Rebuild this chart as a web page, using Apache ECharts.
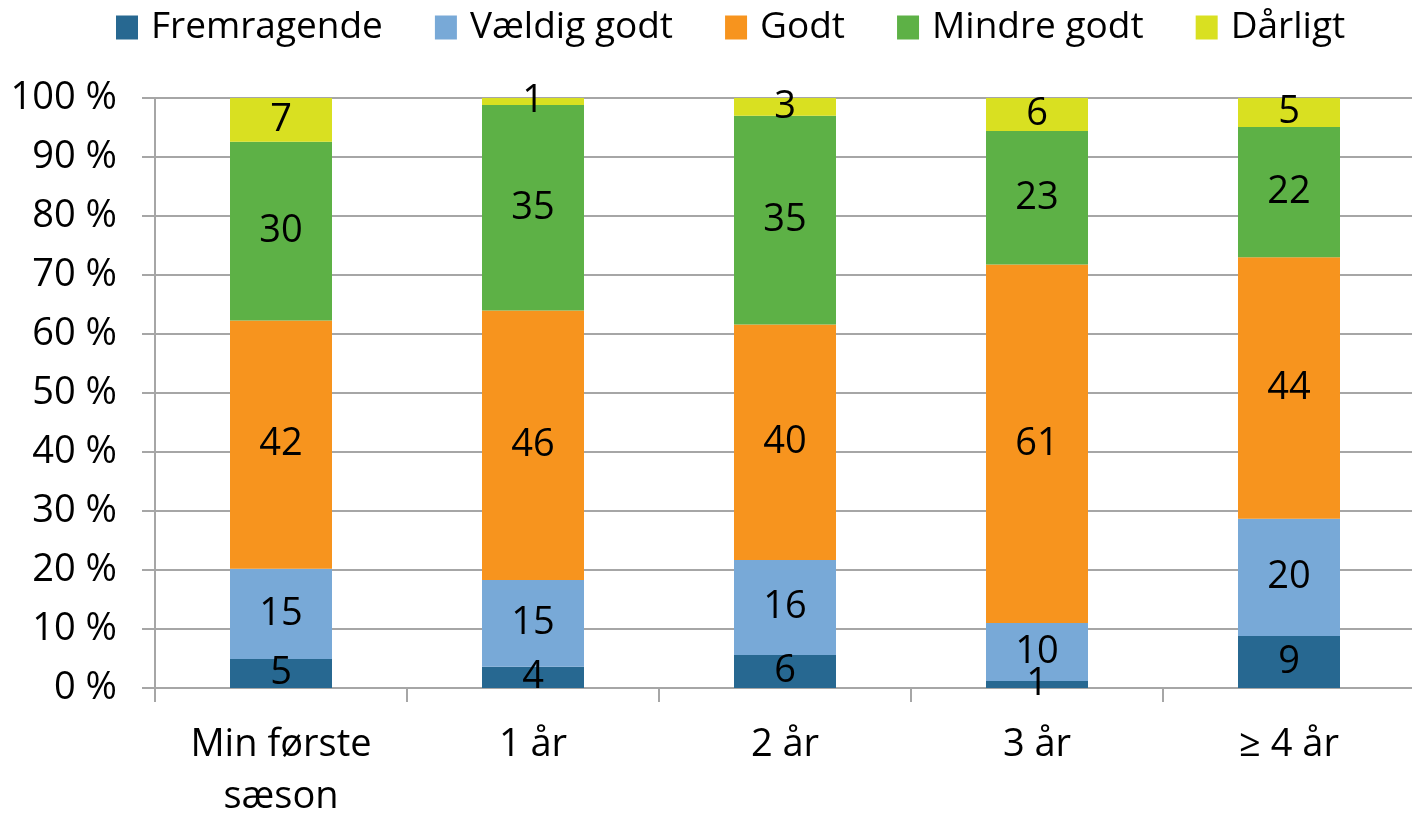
<!DOCTYPE html>
<html>
<head>
<meta charset="utf-8">
<script src="https://cdn.jsdelivr.net/npm/echarts@6/dist/echarts.min.js"></script>
<style>
  html, body { margin: 0; padding: 0; background: #fff; }
  #container { width: 1412px; height: 813px; }
</style>
</head>
<body>
<div id="container"></div>
<script>
var categories = ['Min første\nsæson', '1 år', '2 år', '3 år', '≥ 4 år'];
var seriesNames = ['Fremragende', 'Vældig godt', 'Godt', 'Mindre godt', 'Dårligt'];
var colors = ['#276891', '#78a9d7', '#f7941e', '#5db146', '#d9e021'];

// share of answers in percent (bar heights), labels are rounded
var fremragende = [4.9, 3.6, 5.6, 1.2, 8.8];
var vaeldigGodt = [15.3, 14.7, 16.1, 9.8, 19.9];
var godt = [42.1, 45.7, 39.9, 60.8, 44.3];
var mindreGodt = [30.3, 34.8, 35.4, 22.6, 22.1];
var daarligt = [7.4, 1.2, 3.0, 5.6, 4.9];

var yTicks = [0, 10, 20, 30, 40, 50, 60, 70, 80, 90, 100];

var font = '"Open Sans", "Noto Sans", sans-serif';
var allData = [fremragende, vaeldigGodt, godt, mindreGodt, daarligt];

var myChart = echarts.init(document.getElementById('container'));

var series = seriesNames.map(function (name, i) {
    return {
        name: name,
        type: 'bar',
        stack: 'total',
        barWidth: 102,
        data: allData[i],
        itemStyle: { color: colors[i] },
        label: {
            show: true,
            position: 'inside',
            color: '#000',
            fontFamily: font,
            fontSize: 38,
            formatter: function (p) { return Math.round(p.value); }
        }
    };
});

myChart.setOption({
    animation: false,
    textStyle: { fontFamily: font },
    legend: {
        top: 4,
        left: 111,
        itemWidth: 22,
        itemHeight: 24,
        itemGap: 52,
        icon: 'rect',
        textStyle: { fontSize: 37, color: '#000', fontFamily: font, padding: [0, 0, 0, 8] },
        data: seriesNames
    },
    grid: { left: 155, top: 98, width: 1260, bottom: 125, outerBoundsMode: 'none' },
    xAxis: {
        type: 'category',
        data: categories,
        axisLine: { lineStyle: { color: '#a6a6a6', width: 2 } },
        axisTick: { show: true, length: 14, lineStyle: { color: '#a6a6a6', width: 2 } },
        axisLabel: {
            color: '#000', fontSize: 38, fontFamily: font,
            margin: 31, lineHeight: 52
        }
    },
    yAxis: {
        type: 'value',
        min: yTicks[0],
        max: yTicks[yTicks.length - 1],
        interval: 10,
        axisLine: { show: true, lineStyle: { color: '#a6a6a6', width: 2 } },
        axisTick: { show: true, length: 13, lineStyle: { color: '#a6a6a6', width: 2 } },
        splitLine: { lineStyle: { color: '#a6a6a6', width: 2 } },
        axisLabel: {
            color: '#000', fontSize: 38, fontFamily: font, margin: 38,
            formatter: '{value} %'
        }
    },
    series: series
});
</script>
</body>
</html>
